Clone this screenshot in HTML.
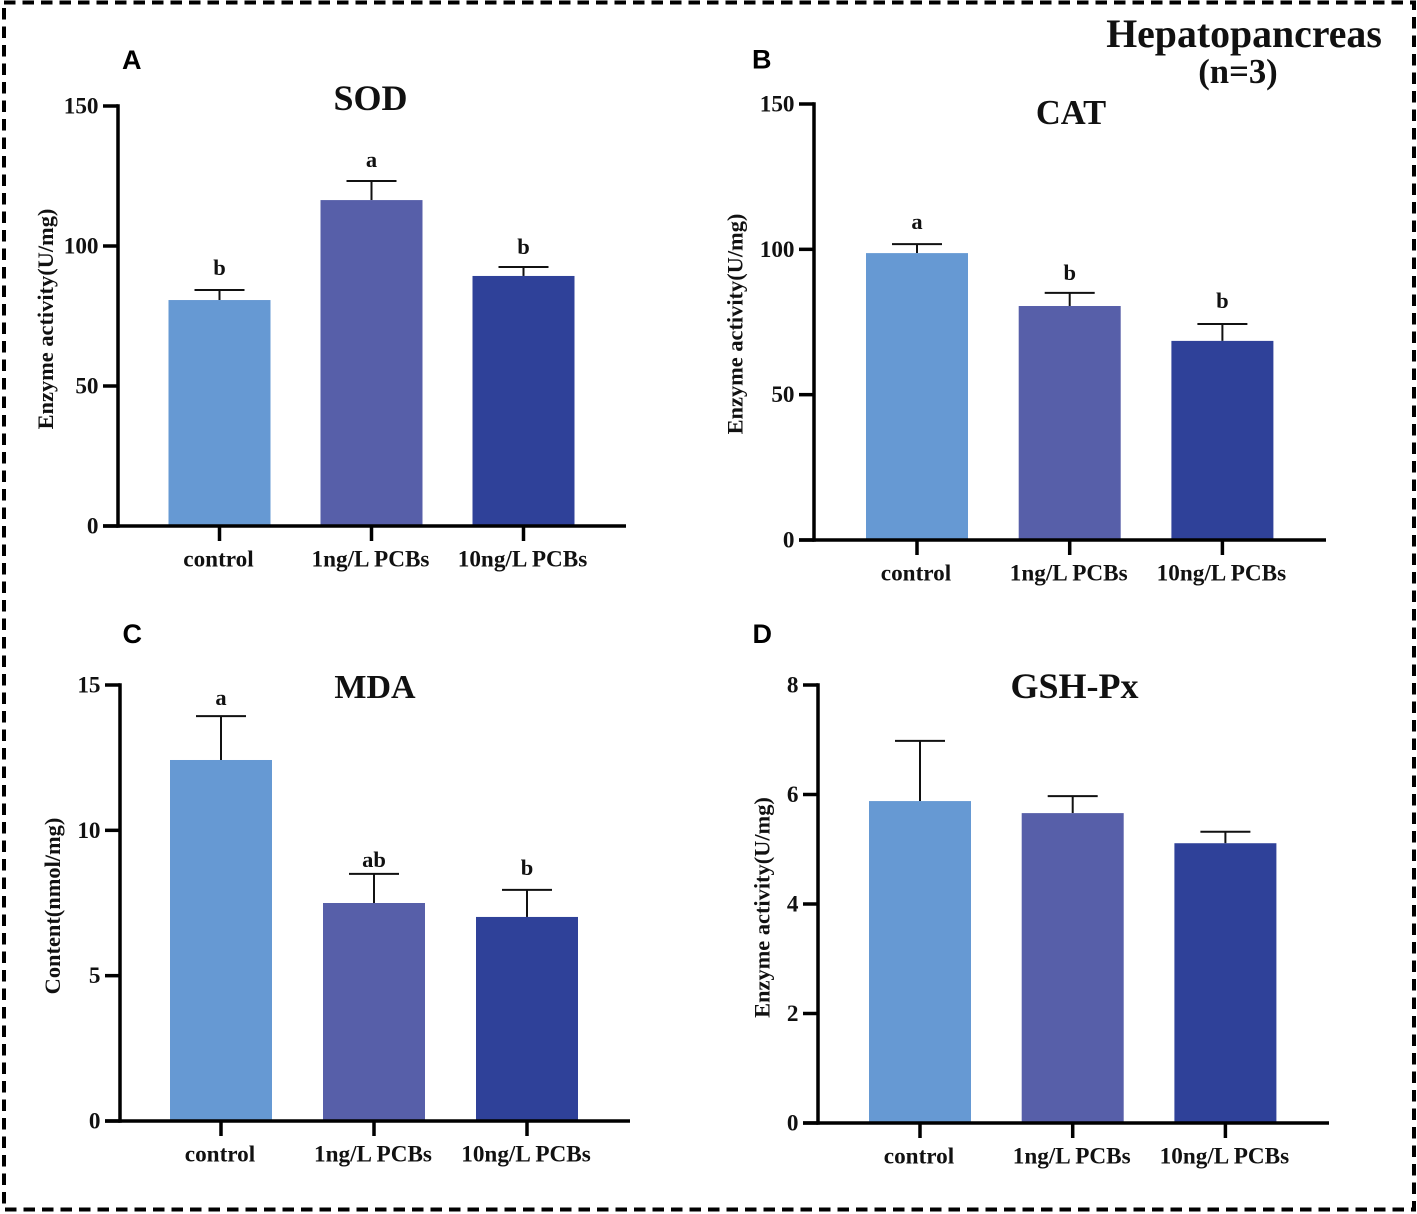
<!DOCTYPE html>
<html lang="en">
<head>
<meta charset="utf-8">
<title>Hepatopancreas enzyme activity</title>
<style>
html,body{margin:0;padding:0;background:#fff;width:1417px;height:1214px;overflow:hidden}
svg{display:block}
text{font-family:"Liberation Serif",serif;font-weight:bold;fill:#111}
.letter{font-family:"Liberation Sans",sans-serif;font-weight:bold;fill:#000}
</style>
</head>
<body>
<svg id="figure" xmlns="http://www.w3.org/2000/svg" width="1417" height="1214" viewBox="0 0 1417 1214">
  <rect x="4" y="2.5" width="1410" height="1207" fill="none" stroke="#000" stroke-width="4" stroke-dasharray="11.5 7"/>
  <text x="1244" y="47" font-size="39.8" text-anchor="middle">Hepatopancreas</text>
  <text x="1238" y="83" font-size="34.7" text-anchor="middle">(n=3)</text>
  <text class="letter" x="122" y="69" font-size="27">A</text>
  <text class="letter" x="752" y="68.5" font-size="27">B</text>
  <text class="letter" x="122.5" y="643" font-size="27">C</text>
  <text class="letter" x="752.5" y="643" font-size="27">D</text>
  <text x="370.5" y="110" font-size="36" text-anchor="middle">SOD</text>
  <text x="1071" y="124" font-size="34.5" text-anchor="middle">CAT</text>
  <text x="375" y="698" font-size="34" text-anchor="middle">MDA</text>
  <text x="1074.5" y="698" font-size="36" text-anchor="middle">GSH-Px</text>
  <text transform="translate(53 319) rotate(-90)" font-size="22.4" text-anchor="middle">Enzyme activity(U/mg)</text>
  <text transform="translate(742.5 324) rotate(-90)" font-size="22.4" text-anchor="middle">Enzyme activity(U/mg)</text>
  <text transform="translate(60 906) rotate(-90)" font-size="22.4" text-anchor="middle">Content(nmol/mg)</text>
  <text transform="translate(769.5 907.5) rotate(-90)" font-size="22.4" text-anchor="middle">Enzyme activity(U/mg)</text>
</svg>
<script>
const categories = ['control', '1ng/L PCBs', '10ng/L PCBs'];
const barColors = ['#6699d3', '#575fa9', '#2f4199'];

const sodValues = [80.7, 116.4, 89.3];
const sodErrorTops = [84.3, 123.2, 92.5];
const sodLetters = ['b', 'a', 'b'];
const sodTicks = [0, 50, 100, 150];

const catValues = [98.7, 80.5, 68.5];
const catErrorTops = [101.8, 85, 74.3];
const catLetters = ['a', 'b', 'b'];
const catTicks = [0, 50, 100, 150];

const mdaValues = [12.42, 7.5, 7.02];
const mdaErrorTops = [13.93, 8.5, 7.95];
const mdaLetters = ['a', 'ab', 'b'];
const mdaTicks = [0, 5, 10, 15];

const gshValues = [5.88, 5.66, 5.11];
const gshErrorTops = [6.98, 5.97, 5.32];
const gshLetters = ['', '', ''];
const gshTicks = [0, 2, 4, 6, 8];

const svg = document.getElementById('figure');
const NS = 'http://www.w3.org/2000/svg';

function make(tag, attrs, parent) {
  const el = document.createElementNS(NS, tag);
  for (const k in attrs) el.setAttribute(k, attrs[k]);
  parent.appendChild(el);
  return el;
}

function drawPanel(cfg) {
  const group = make('g', {}, svg);
  
  

  const maxTick = Math.max.apply(null, cfg.ticks);
  const yScale = function (v) { return cfg.y0 - (v / maxTick) * (cfg.y0 - cfg.yTop); };
  const xScale = function (i) { return cfg.xFirst + i * cfg.xStep; };

  cfg.values.forEach(function (value, i) {
    const cx = xScale(i);
    const top = yScale(value);
    const errTop = yScale(cfg.errors[i]);

    const stem = make('line', { x1: cx, x2: cx, y1: errTop, y2: top, stroke: '#111', 'stroke-width': 2 }, group);
    
    

    const cap = make('line', { x1: cx - 25, x2: cx + 25, y1: errTop, y2: errTop, stroke: '#111', 'stroke-width': 2 }, group);
    
    

    const bar = make('rect', { x: cx - 51, y: top, width: 102, height: cfg.y0 - top, fill: barColors[i] }, group);
    
    

    if (cfg.letters[i]) {
      const sig = make('text', { x: cx, y: errTop - cfg.letterGaps[i], 'font-size': 22.5, 'text-anchor': 'middle' }, group);
      
      
      sig.textContent = cfg.letters[i];
    }

    const tick = make('line', { x1: cx, x2: cx, y1: cfg.y0, y2: cfg.y0 + 15, stroke: '#000', 'stroke-width': 3.5 }, group);
    
    

    const label = make('text', { x: cx - 1, y: cfg.y0 + 40.5, 'font-size': 23.2, 'text-anchor': 'middle' }, group);
    
    
    label.textContent = categories[i];
  });

  const yAxis = make('line', { x1: cfg.xAxis, x2: cfg.xAxis, y1: cfg.yTop - 1.75, y2: cfg.y0 + 1.75, stroke: '#000', 'stroke-width': 3.5 }, group);
  
  

  const xAxis = make('line', { x1: cfg.xAxis - 15, x2: cfg.xEnd, y1: cfg.y0, y2: cfg.y0, stroke: '#000', 'stroke-width': 3.5 }, group);
  
  

  cfg.ticks.forEach(function (t) {
    const y = yScale(t);
    const tick = make('line', { x1: cfg.xAxis - 15, x2: cfg.xAxis, y1: y, y2: y, stroke: '#000', 'stroke-width': 3.5 }, group);
    
    

    const label = make('text', { x: cfg.xAxis - 19.5, y: y + 7.5, 'font-size': 23.2, 'text-anchor': 'end' }, group);
    
    
    label.textContent = String(t);
  });
}

drawPanel({ name: 'sod', values: sodValues, errors: sodErrorTops, letters: sodLetters, ticks: sodTicks,
  xAxis: 118, xEnd: 626, yTop: 106, y0: 526, xFirst: 219.5, xStep: 152, letterGaps: [15, 14, 13] });
drawPanel({ name: 'cat', values: catValues, errors: catErrorTops, letters: catLetters, ticks: catTicks,
  xAxis: 814, xEnd: 1326, yTop: 104, y0: 540, xFirst: 917, xStep: 152.7, letterGaps: [15, 13, 16] });
drawPanel({ name: 'mda', values: mdaValues, errors: mdaErrorTops, letters: mdaLetters, ticks: mdaTicks,
  xAxis: 120, xEnd: 630, yTop: 685, y0: 1121, xFirst: 221, xStep: 153, letterGaps: [11, 7, 15] });
drawPanel({ name: 'gsh-px', values: gshValues, errors: gshErrorTops, letters: gshLetters, ticks: gshTicks,
  xAxis: 818, xEnd: 1329, yTop: 685, y0: 1123, xFirst: 920, xStep: 152.7, letterGaps: [14, 14, 14] });
</script>
</body>
</html>
